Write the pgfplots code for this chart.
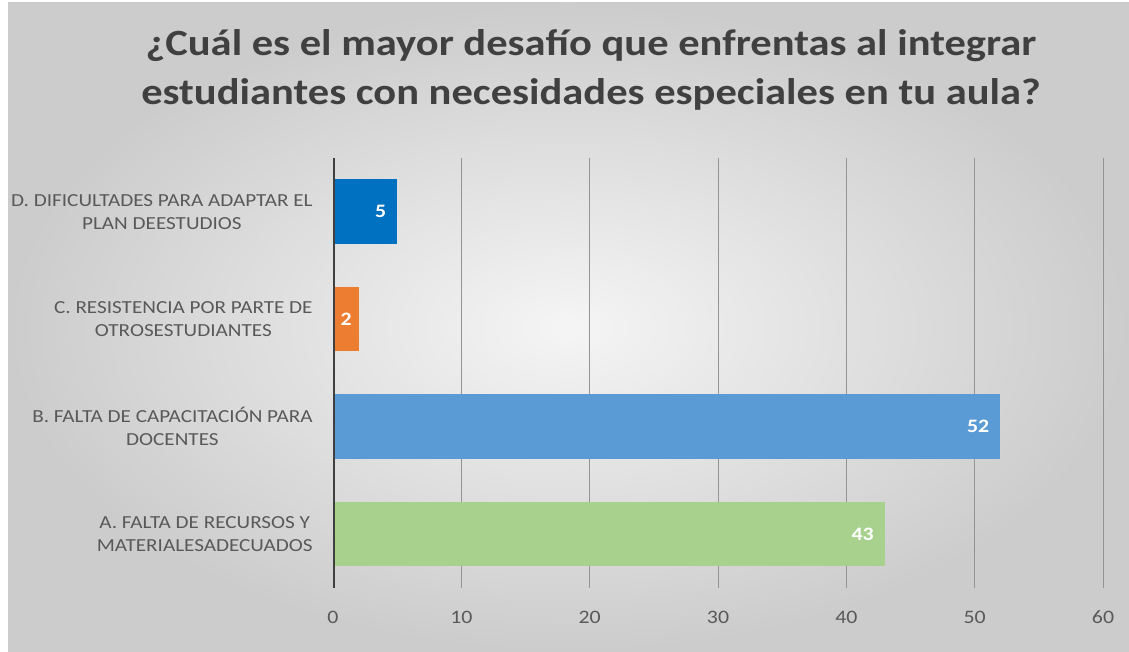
\documentclass[border=0pt]{standalone}
\usepackage{pgfplots}
\pgfplotsset{compat=1.18}
\usepackage{fontspec}
\setmainfont{Carlito}[FakeStretch=1.15]
\definecolor{titlegray}{HTML}{404040}
\definecolor{labelgray}{HTML}{595959}
\definecolor{barD}{HTML}{0070C0}
\definecolor{barC}{HTML}{ED7D31}
\definecolor{barB}{HTML}{5B9BD5}
\definecolor{barA}{HTML}{A9D18E}
\begin{document}
\begin{tikzpicture}
% canvas 1129 x 652 px at 0.5pt per px
\useasboundingbox (0,0) rectangle (564.5pt,326pt);
\fill[white] (0,0) rectangle (564.5pt,326pt);
\shade[inner color=white!96!black, outer color=black!20] (4pt,0) rectangle (564.5pt,324.5pt);
\node[font=\fontsize{18.5}{24.5}\selectfont\bfseries, text=titlegray, align=center]
  at (295.5pt,291pt) {¿Cuál es el mayor desafío que enfrentas al integrar\\estudiantes con necesidades especiales en tu aula?};
\begin{axis}[
  at={(166.5pt,32pt)}, anchor=south west,
  scale only axis, width=385pt, height=215pt,
  xbar, bar width=0.6, bar shift=0pt,
  xmin=0, xmax=60, ymin=-0.5, ymax=3.5,
  /pgf/number format/assume math mode=true,
  xtick={0,10,...,60},
  ytick={0,1,2,3},
  yticklabels={{A. FALTA DE RECURSOS Y\\MATERIALESADECUADOS},
               {B. FALTA DE CAPACITACIÓN PARA\\DOCENTES},
               {C. RESISTENCIA POR PARTE DE\\OTROSESTUDIANTES},
               {D. DIFICULTADES PARA ADAPTAR EL\\PLAN DEESTUDIOS}},
  yticklabel style={align=center, font=\fontsize{9.2}{11.5}\selectfont, text=labelgray, inner sep=0pt, xshift=-10pt},
  xticklabel style={font=\fontsize{9.5}{11}\selectfont, text=labelgray, yshift=-8pt},
  major tick length=0pt,
  axis line style={draw=none},
  xmajorgrids, grid style={draw=black!42, line width=0.5pt},
  nodes near coords,
  every node near coord/.append style={anchor=east, xshift=-2pt, text=white, font=\fontsize{9.5}{11}\selectfont\bfseries},
]
\addplot[draw=none, fill=barA] coordinates {(43,0)};
\addplot[draw=none, fill=barB] coordinates {(52,1)};
\addplot[draw=none, fill=barC, every node near coord/.append style={xshift=2pt}] coordinates {(2,2)};
\addplot[draw=none, fill=barD] coordinates {(5,3)};
\draw[draw=titlegray, line width=1.5pt] (axis cs:0,-0.5) -- (axis cs:0,3.5);
\end{axis}
\end{tikzpicture}
\end{document}
